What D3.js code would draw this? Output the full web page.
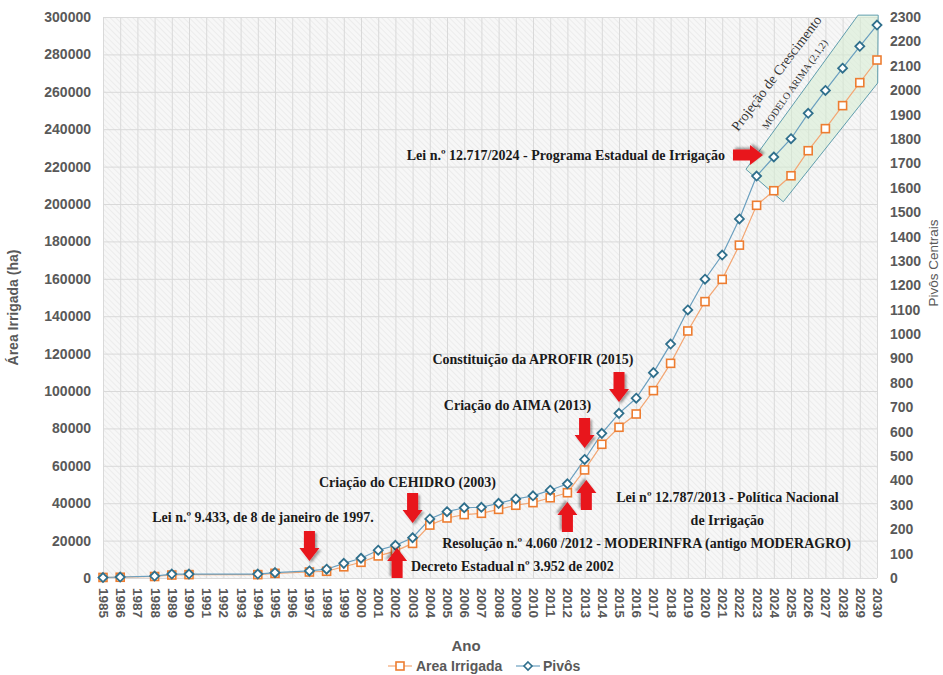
<!DOCTYPE html>
<html>
<head>
<meta charset="utf-8">
<script src="https://cdn.jsdelivr.net/npm/d3@7"></script>
<style>
  html, body { margin: 0; padding: 0; background: #fff; }
</style>
</head>
<body>
<div id="chart"></div>
<script>
// tick labels of the category axis (every year, even those without data)
const yearLabels = ["1985","1986","1987","1988","1989","1990","1991","1992","1993","1994",
  "1995","1996","1997","1998","1999","2000","2001","2002","2003","2004","2005","2006","2007",
  "2008","2009","2010","2011","2012","2013","2014","2015","2016","2017","2018","2019","2020",
  "2021","2022","2023","2024","2025","2026","2027","2028","2029","2030"];

// years that carry a value
const dataYears = ["1985","1986","1988","1989","1990","1994","1995","1997","1998","1999",
  "2000","2001","2002","2003","2004","2005","2006","2007","2008","2009","2010","2011","2012",
  "2013","2014","2015","2016","2017","2018","2019","2020","2021","2022","2023","2024","2025",
  "2026","2027","2028","2029","2030"];

// Área irrigada (ha)
const areaIrrigada = [300, 400, 800, 1600, 1800, 1800, 2500, 3200, 3600, 6000,
  8400, 11800, 14400, 18500, 28300, 32100, 33900, 34600, 36700, 38900, 40300, 42900, 45600,
  57800, 71500, 80600, 87700, 100200, 114800, 132100, 147800, 159700, 178000, 199300, 207100, 215100,
  228500, 240300, 252600, 264900, 277000];

// Pivôs centrais
const pivos = [2, 4, 8, 16, 16, 16, 22, 29, 36, 60,
  81, 114, 134, 165, 242, 272, 288, 290, 306, 324, 337, 360, 386,
  486, 593, 675, 737, 842, 959, 1099, 1225, 1324, 1472, 1648, 1726, 1801,
  1905, 1999, 2090, 2180, 2267];

const leftTicks = d3.range(0, 300001, 20000);
const rightTicks = d3.range(0, 2301, 100);

// annotations, anchored in data units (year, hectares)
const notes = [
  { text: "Lei n.º 12.717/2024  - Programa Estadual de Irrigação", year: 2021.16, value: 226200, anchor: "end" },
  { text: "Constituição da APROFIR (2015)", year: 2010.0, value: 117100, anchor: "middle" },
  { text: "Criação do AIMA (2013)", year: 2009.1, value: 92000, anchor: "middle" },
  { text: "Criação do CEHIDRO (2003)", year: 2002.7, value: 51300, anchor: "middle" },
  { text: "Lei n.º 9.433, de 8 de janeiro de 1997.", year: 1994.3, value: 32100, anchor: "middle" },
  { text: "Decreto Estadual nº 3.952 de 2002", year: 2008.8, value: 5900, anchor: "middle" },
  { text: "Resolução n.º 4.060 /2012 - MODERINFRA (antigo MODERAGRO)", year: 2016.6, value: 18200, anchor: "middle" },
  { text: "Lei nº 12.787/2013 - Política Nacional", year: 2021.3, value: 43300, anchor: "middle" },
  { text: "de Irrigação", year: 2021.3, value: 31000, anchor: "middle" }
];

// arrows: tip position in data units and the way they point
const arrows = [
  { year: 2023.37, value: 226200, dir: "right" },
  { year: 2015.0, value: 94100, dir: "down" },
  { year: 2013.0, value: 69500, dir: "down" },
  { year: 2003.0, value: 29400, dir: "down" },
  { year: 1997.0, value: 9100, dir: "down" },
  { year: 2002.1, value: 16000, dir: "up" },
  { year: 2012.0, value: 40600, dir: "up" },
  { year: 2013.1, value: 52400, dir: "up" }
];

// projection band (ARIMA) outline in data units
const band = [[2028.9, 301000], [2030.07, 301000], [2030.04, 264700], [2024.55, 201200], [2022.38, 218550]];

const width = 943, height = 675;
const margin = { top: 17, right: 66, bottom: 97, left: 103 };
const innerW = width - margin.left - margin.right;
const innerH = height - margin.top - margin.bottom;

const axisFont = "'Liberation Sans', Arial, sans-serif";
const serifFont = "'Liberation Serif', 'Times New Roman', serif";
const axisColor = "#595959";

const svg = d3.select("#chart").append("svg")
  .attr("width", width)
  .attr("height", height);

const defs = svg.append("defs");
defs.append("pattern")
  .attr("id", "hatch")
  .attr("width", 4).attr("height", 4)
  .attr("patternUnits", "userSpaceOnUse")
  .attr("patternTransform", "rotate(-45)")
  .call(p => {
    p.append("rect").attr("width", 4).attr("height", 4).attr("fill", "#f7f7f7");
    p.append("line").attr("x1", 0).attr("y1", 0).attr("x2", 0).attr("y2", 4)
      .attr("stroke", "#e6e6e6").attr("stroke-width", 1.3);
  });
defs.append("filter")
  .attr("id", "shadow")
  .attr("x", "-50%").attr("y", "-50%").attr("width", "200%").attr("height", "200%")
  .append("feDropShadow")
  .attr("dx", 2).attr("dy", 2).attr("stdDeviation", 1.2)
  .attr("flood-color", "#000").attr("flood-opacity", 0.35);

const g = svg.append("g").attr("transform", `translate(${margin.left},${margin.top})`);

// scales
const x = d3.scalePoint().domain(yearLabels).range([0, innerW]);
const xYear = d3.scaleLinear().domain([1985, 2030]).range([0, innerW]);
const yLeft = d3.scaleLinear().domain([0, 300000]).range([innerH, 0]);
const yRight = d3.scaleLinear().domain([0, 2300]).range([innerH, 0]);

// plot background
g.append("rect")
  .attr("width", innerW).attr("height", innerH)
  .attr("fill", "url(#hatch)");

// grid
g.append("g")
  .call(d3.axisLeft(yLeft).tickValues(leftTicks).tickSize(-innerW).tickFormat(""))
  .call(a => a.select(".domain").remove())
  .call(a => a.selectAll("line").attr("stroke", "#d9d9d9"));
g.append("g")
  .attr("transform", `translate(0,${innerH})`)
  .call(d3.axisBottom(x).tickSize(-innerH).tickFormat(""))
  .call(a => a.select(".domain").remove())
  .call(a => a.selectAll("line").attr("stroke", "#d9d9d9"));

// left axis labels
g.append("g")
  .call(d3.axisLeft(yLeft).tickValues(leftTicks).tickSize(0).tickPadding(12).tickFormat(d3.format("d")))
  .call(a => a.select(".domain").remove())
  .call(a => a.selectAll("text")
    .attr("fill", axisColor).attr("font-family", axisFont)
    .attr("font-size", 14).attr("font-weight", "bold"));

// right axis labels
g.append("g")
  .attr("transform", `translate(${innerW},0)`)
  .call(d3.axisRight(yRight).tickValues(rightTicks).tickSize(0).tickPadding(13).tickFormat(d3.format("d")))
  .call(a => a.select(".domain").remove())
  .call(a => a.selectAll("text")
    .attr("fill", axisColor).attr("font-family", axisFont)
    .attr("font-size", 14).attr("font-weight", "bold"));

// bottom axis labels, turned to read downward
g.append("g")
  .attr("transform", `translate(0,${innerH})`)
  .call(d3.axisBottom(x).tickSize(0).tickPadding(0))
  .call(a => a.select(".domain").remove())
  .call(a => a.selectAll("text")
    .attr("fill", axisColor).attr("font-family", axisFont)
    .attr("font-size", 13.5).attr("font-weight", "bold")
    .attr("text-anchor", "start")
    .attr("dy", null).attr("y", 0)
    .attr("dominant-baseline", "central")
    .attr("transform", "translate(0,10) rotate(90)"));

// axis titles
svg.append("text")
  .attr("transform", `translate(13,${margin.top + yLeft(150000) + 10}) rotate(-90)`)
  .attr("text-anchor", "middle").attr("dominant-baseline", "central")
  .attr("font-family", axisFont).attr("font-size", 14).attr("font-weight", "bold")
  .attr("fill", axisColor)
  .text("Área Irrigada (ha)");

svg.append("text")
  .attr("transform", `translate(933,${margin.top + yRight(1300) + 2}) rotate(-90)`)
  .attr("text-anchor", "middle").attr("dominant-baseline", "central")
  .attr("font-family", axisFont).attr("font-size", 13.5)
  .attr("fill", axisColor)
  .text("Pivôs Centrais");

svg.append("text")
  .attr("x", 466).attr("y", 645)
  .attr("text-anchor", "middle").attr("dominant-baseline", "central")
  .attr("font-family", axisFont).attr("font-size", 15).attr("font-weight", "bold")
  .attr("fill", axisColor)
  .text("Ano");

// projection band
g.append("path")
  .attr("d", d3.line().x(d => xYear(d[0])).y(d => yLeft(d[1])).curve(d3.curveLinearClosed)(band))
  .attr("fill", "#d6ecd2").attr("fill-opacity", 0.55)
  .attr("stroke", "#4f93a6").attr("stroke-width", 0.9);

const bandText = g.append("g").attr("font-family", serifFont).attr("fill", "#333");
bandText.append("text")
  .attr("transform", `translate(${xYear(2021.92)},${yLeft(238500)}) rotate(-53)`)
  .attr("font-size", 14)
  .text("Projeção de Crescimento");
bandText.append("text")
  .attr("transform", `translate(${xYear(2023.6)},${yLeft(239600)}) rotate(-55)`)
  .attr("font-size", 10)
  .text("MODELO ARIMA (2,1,2)");

// series
const rows = dataYears.map((yr, i) => ({ year: yr, area: areaIrrigada[i], pivos: pivos[i] }));

g.append("path")
  .datum(rows)
  .attr("fill", "none")
  .attr("stroke", "#f3a673").attr("stroke-width", 1.2)
  .attr("d", d3.line().x(d => x(d.year)).y(d => yLeft(d.area)));

g.append("path")
  .datum(rows)
  .attr("fill", "none")
  .attr("stroke", "#6a9fbf").attr("stroke-width", 1.2)
  .attr("d", d3.line().x(d => x(d.year)).y(d => yRight(d.pivos)));

g.selectAll(".sq").data(rows).join("rect")
  .attr("class", "sq")
  .attr("x", d => x(d.year) - 4).attr("y", d => yLeft(d.area) - 4)
  .attr("width", 8).attr("height", 8)
  .attr("fill", "#fff").attr("stroke", "#ed7d31").attr("stroke-width", 1.6);

g.selectAll(".dm").data(rows).join("path")
  .attr("class", "dm")
  .attr("transform", d => `translate(${x(d.year)},${yRight(d.pivos)})`)
  .attr("d", "M0,-4.5L4.5,0L0,4.5L-4.5,0Z")
  .attr("fill", "#fff").attr("stroke", "#2f6f8c").attr("stroke-width", 1.8);

// arrows
const arrowPath = "M0,0L-10,-13L-5.5,-13L-5.5,-30L5.5,-30L5.5,-13L10,-13Z";
const turn = { down: 0, up: 180, right: -90 };
g.selectAll(".arrow").data(arrows).join("path")
  .attr("class", "arrow")
  .attr("transform", d => `translate(${xYear(d.year)},${yLeft(d.value)}) rotate(${turn[d.dir]})`)
  .attr("d", arrowPath)
  .attr("fill", "#e8131b")
  .attr("filter", "url(#shadow)");

// annotation texts
g.selectAll(".note").data(notes).join("text")
  .attr("class", "note")
  .attr("x", d => xYear(d.year)).attr("y", d => yLeft(d.value))
  .attr("text-anchor", d => d.anchor)
  .attr("dominant-baseline", "central")
  .attr("font-family", serifFont).attr("font-size", 14).attr("font-weight", "bold")
  .attr("fill", "#1a1a1a")
  .text(d => d.text);

// legend
const legend = svg.append("g").attr("font-family", axisFont).attr("font-size", 14)
  .attr("font-weight", "bold").attr("fill", axisColor);
const legY = 666;
legend.append("line").attr("x1", 388).attr("x2", 412).attr("y1", legY).attr("y2", legY)
  .attr("stroke", "#f3a673").attr("stroke-width", 1.2);
legend.append("rect").attr("x", 396).attr("y", legY - 4).attr("width", 8).attr("height", 8)
  .attr("fill", "#fff").attr("stroke", "#ed7d31").attr("stroke-width", 1.6);
legend.append("text").attr("x", 416).attr("y", legY).attr("dominant-baseline", "central")
  .text("Area Irrigada");
legend.append("line").attr("x1", 516).attr("x2", 540).attr("y1", legY).attr("y2", legY)
  .attr("stroke", "#6a9fbf").attr("stroke-width", 1.2);
legend.append("path").attr("transform", `translate(528,${legY})`)
  .attr("d", "M0,-4L4,0L0,4L-4,0Z")
  .attr("fill", "#fff").attr("stroke", "#2f6f8c").attr("stroke-width", 1.6);
legend.append("text").attr("x", 543).attr("y", legY).attr("dominant-baseline", "central")
  .text("Pivôs");
</script>
</body>
</html>
